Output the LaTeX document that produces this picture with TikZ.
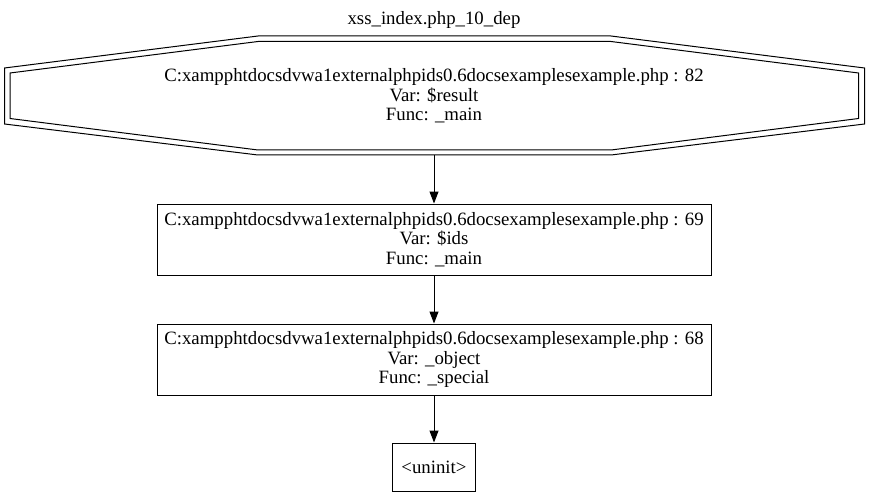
\documentclass[tikz,border=0pt]{standalone}
\usepackage{fontspec}
\setmainfont{Liberation Serif}
\usetikzlibrary{arrows.meta}
\begin{document}
\begin{tikzpicture}[x=1pt,y=-1pt,
  txt/.style={align=center,font=\fontsize{18.8}{19.5}\selectfont,inner sep=0pt},
  box/.style={draw,line width=1pt,txt,minimum width=554pt,minimum height=71pt},
  edge/.style={line width=1pt,-{Triangle[length=12pt,width=9pt]}}]
\useasboundingbox (0,0) rectangle (869,497);
\node[txt] (title) at (434,20) {xss\_index.php\_10\_dep};
% double octagon
\draw[line width=1pt] (4.5,68) -- (258,36) -- (611,36) -- (864.5,68) -- (864.5,124) -- (611,155) -- (258,155) -- (4.5,124) -- cycle;
\draw[line width=1pt] (10,73) -- (258,41.5) -- (611,41.5) -- (858.5,73) -- (858.5,118.5) -- (611,150) -- (258,150) -- (10,118.5) -- cycle;
\node[txt] (n1) at (434,96) {C:xampphtdocsdvwa1externalphpids0.6docsexamplesexample.php : 82\\Var: \$result\\Func: \_main};
\coordinate (n1b) at (434,155);
\node[box] (n2) at (434,239.5) {C:xampphtdocsdvwa1externalphpids0.6docsexamplesexample.php : 69\\Var: \$ids\\Func: \_main};
\node[box] (n3) at (434,359.5) {C:xampphtdocsdvwa1externalphpids0.6docsexamplesexample.php : 68\\Var: \_object\\Func: \_special};
\node[box,minimum width=83pt,minimum height=48pt] (n4) at (434,467) {<uninit>};
\draw[edge] (n1b) -- (n2);
\draw[edge] (n2) -- (n3);
\draw[edge] (n3) -- (n4);
\end{tikzpicture}
\end{document}
